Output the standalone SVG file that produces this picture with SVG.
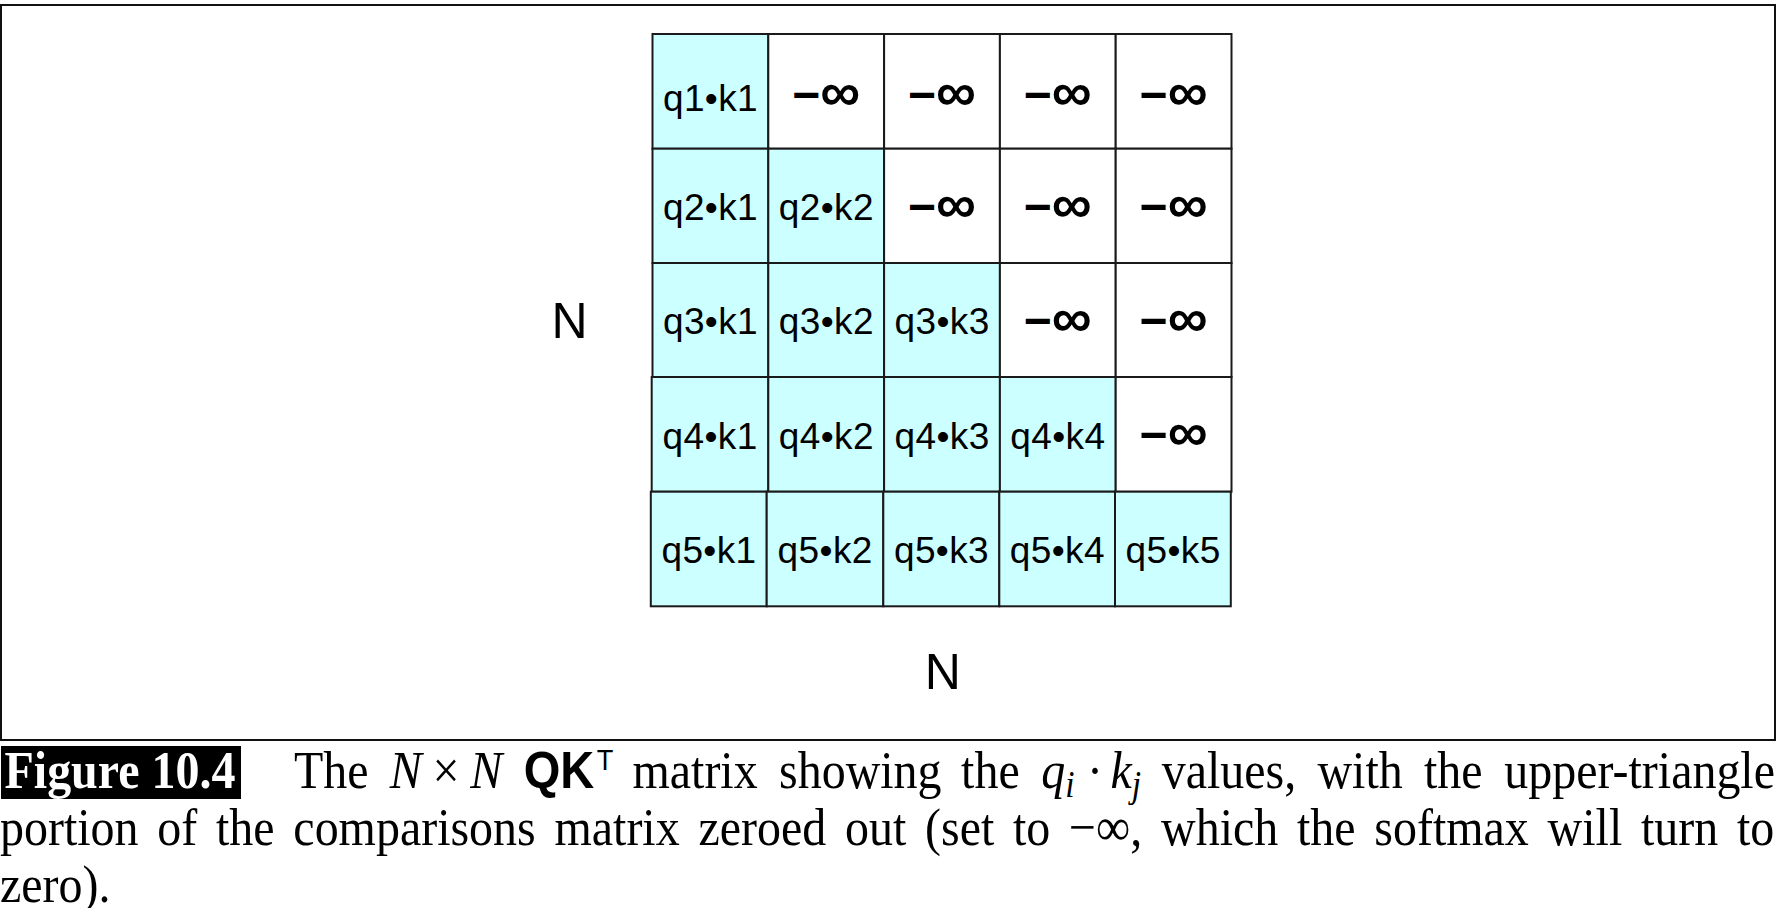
<svg xmlns="http://www.w3.org/2000/svg" width="1788" height="908" viewBox="0 0 1788 908">
<style>
.cell{stroke:#1a1a1a;stroke-width:2}
.on{fill:#ccffff}
.off{fill:#ffffff}
.lbl{font-family:"Liberation Sans",Arial,sans-serif;font-size:37px;letter-spacing:0.4px;text-anchor:middle;fill:#000}
.inf{font-family:"Liberation Sans",Arial,sans-serif;font-weight:bold;font-size:48px;text-anchor:middle;fill:#000}
.inf .oo{font-size:56px}
.axis{font-family:"Liberation Sans",Arial,sans-serif;font-size:50px;text-anchor:middle;fill:#000}
.cap{font-family:"Liberation Serif","Times New Roman",serif;font-size:53px;fill:#000}
.it{font-style:italic}
.sans{font-family:"Liberation Sans",Arial,sans-serif}
</style>
<rect x="0" y="0" width="1788" height="908" fill="#ffffff"/>
<rect id="frame" x="1" y="5" width="1774" height="735" fill="#ffffff" stroke="#111" stroke-width="2"/>

<g id="row1">
<rect class="cell on" x="652.5" y="34" width="115.8" height="114.7"/>
<rect class="cell off" x="768.3" y="34" width="115.8" height="114.7"/>
<rect class="cell off" x="884.1" y="34" width="115.8" height="114.7"/>
<rect class="cell off" x="999.9" y="34" width="115.8" height="114.7"/>
<rect class="cell off" x="1115.7" y="34" width="115.8" height="114.7"/>
<text class="lbl" x="710.5" y="110.5">q1•k1</text>
<text class="inf" x="826.2" y="111">−<tspan class="oo">∞</tspan></text>
<text class="inf" x="942" y="111">−<tspan class="oo">∞</tspan></text>
<text class="inf" x="1057.8" y="111">−<tspan class="oo">∞</tspan></text>
<text class="inf" x="1173.6" y="111">−<tspan class="oo">∞</tspan></text>
</g>

<g id="row2">
<rect class="cell on" x="652.5" y="148.7" width="115.8" height="114.3"/>
<rect class="cell on" x="768.3" y="148.7" width="115.8" height="114.3"/>
<rect class="cell off" x="884.1" y="148.7" width="115.8" height="114.3"/>
<rect class="cell off" x="999.9" y="148.7" width="115.8" height="114.3"/>
<rect class="cell off" x="1115.7" y="148.7" width="115.8" height="114.3"/>
<text class="lbl" x="710.5" y="220">q2•k1</text>
<text class="lbl" x="826.3" y="220">q2•k2</text>
<text class="inf" x="942" y="223">−<tspan class="oo">∞</tspan></text>
<text class="inf" x="1057.8" y="223">−<tspan class="oo">∞</tspan></text>
<text class="inf" x="1173.6" y="223">−<tspan class="oo">∞</tspan></text>
</g>

<g id="row3">
<rect class="cell on" x="652.5" y="263" width="115.8" height="114"/>
<rect class="cell on" x="768.3" y="263" width="115.8" height="114"/>
<rect class="cell on" x="884.1" y="263" width="115.8" height="114"/>
<rect class="cell off" x="999.9" y="263" width="115.8" height="114"/>
<rect class="cell off" x="1115.7" y="263" width="115.8" height="114"/>
<text class="lbl" x="710.5" y="334">q3•k1</text>
<text class="lbl" x="826.3" y="334">q3•k2</text>
<text class="lbl" x="942.1" y="334">q3•k3</text>
<text class="inf" x="1057.8" y="337">−<tspan class="oo">∞</tspan></text>
<text class="inf" x="1173.6" y="337">−<tspan class="oo">∞</tspan></text>
</g>

<g id="row4">
<rect class="cell on" x="651.7" y="377" width="116.6" height="114.7"/>
<rect class="cell on" x="768.3" y="377" width="115.8" height="114.7"/>
<rect class="cell on" x="884.1" y="377" width="115.8" height="114.7"/>
<rect class="cell on" x="999.9" y="377" width="115.8" height="114.7"/>
<rect class="cell off" x="1115.7" y="377" width="115.8" height="114.7"/>
<text class="lbl" x="710.1" y="448.5">q4•k1</text>
<text class="lbl" x="826.3" y="448.5">q4•k2</text>
<text class="lbl" x="942.1" y="448.5">q4•k3</text>
<text class="lbl" x="1057.9" y="448.5">q4•k4</text>
<text class="inf" x="1173.6" y="451">−<tspan class="oo">∞</tspan></text>
</g>

<g id="row5">
<rect class="cell on" x="650.8" y="491.7" width="115.9" height="114.6"/>
<rect class="cell on" x="766.7" y="491.7" width="116.6" height="114.6"/>
<rect class="cell on" x="883.3" y="491.7" width="116" height="114.6"/>
<rect class="cell on" x="999.3" y="491.7" width="115.7" height="114.6"/>
<rect class="cell on" x="1115" y="491.7" width="115.8" height="114.6"/>
<text class="lbl" x="709" y="563">q5•k1</text>
<text class="lbl" x="825.2" y="563">q5•k2</text>
<text class="lbl" x="941.5" y="563">q5•k3</text>
<text class="lbl" x="1057.4" y="563">q5•k4</text>
<text class="lbl" x="1173.1" y="563">q5•k5</text>
</g>

<g id="axis-labels">
<text class="axis" x="569.5" y="338">N</text>
<text class="axis" x="942.8" y="689">N</text>
</g>

<g id="caption">
<rect x="1" y="746" width="240" height="53" fill="#000"/>
<g transform="scale(0.905,1)">
<text class="cap" x="5" y="788" font-weight="bold" style="fill:#fff">Figure 10.4</text>
<text class="cap" y="788"><tspan x="324.9">The</tspan><tspan class="it" x="430.8">N</tspan><tspan x="478">×</tspan><tspan class="it" x="519.7">N</tspan><tspan class="sans" x="578.6" font-weight="bold" font-size="52">QK</tspan><tspan class="sans" x="659.5" y="770" font-size="30">T</tspan><tspan x="698.9" y="788">matrix</tspan><tspan x="860.8">showing</tspan><tspan x="1062">the</tspan><tspan class="it" x="1150.5">q</tspan><tspan class="it" x="1177" y="797" font-size="37">i</tspan><tspan x="1201.1" y="788">·</tspan><tspan class="it" x="1227">k</tspan><tspan class="it" x="1250.5" y="797" font-size="37">j</tspan><tspan x="1283.6" y="788">values,</tspan><tspan x="1455.8">with</tspan><tspan x="1573.5">the</tspan><tspan x="1961.3" text-anchor="end">upper-triangle</tspan></text>
<text class="cap" x="0" y="845" word-spacing="7.49">portion of the comparisons matrix zeroed out (set to −∞, which the softmax will turn to</text>
<text class="cap" x="0" y="902">zero).</text>
</g>
</g>
</svg>
